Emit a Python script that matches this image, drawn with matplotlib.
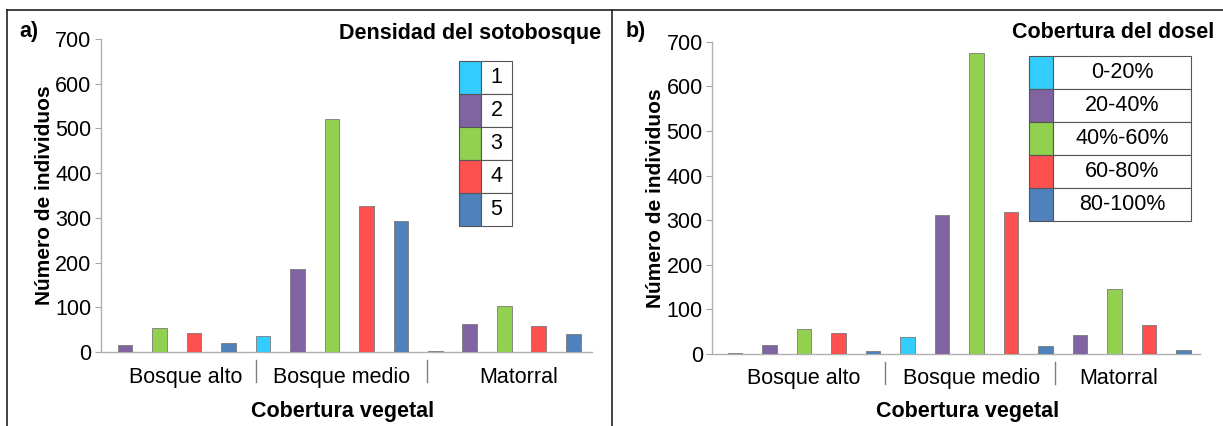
import matplotlib.pyplot as plt
from matplotlib.patches import Rectangle
from matplotlib.lines import Line2D

plt.rcParams['font.family'] = ['Liberation Sans', 'DejaVu Sans']

# colores por clase (1..5)
colores = ['#33CCFF', '#8064A2', '#92D050', '#FF5050', '#4F81BD']
grupos = ['Bosque alto', 'Bosque medio', 'Matorral']

# a) densidad del sotobosque
a_clase = [2, 3, 4, 5, 1, 2, 3, 4, 5, 1, 2, 3, 4, 5]
a_valor = [16, 53, 42, 20, 36, 185, 521, 326, 292, 2, 63, 102, 59, 40]
a_leyenda = ['1', '2', '3', '4', '5']

# b) cobertura del dosel
b_clase = [1, 2, 3, 4, 5, 1, 2, 3, 4, 5, 2, 3, 4, 5]
b_valor = [2, 20, 55, 46, 6, 37, 312, 674, 318, 19, 43, 146, 65, 8]
b_leyenda = ['0-20%', '20-40%', '40%-60%', '60-80%', '80-100%']

FS = 15.5
W, H = 1223, 426
fig = plt.figure(figsize=(W / 100, H / 100), dpi=100)

def fx(px):
    return px / W

def fy(py):
    return 1 - py / H

# marco
for seg in [((7, 1223), (10, 10)), ((7, 7), (10, 426)), ((612, 612), (10, 426))]:
    fig.add_artist(Line2D([fx(seg[0][0]), fx(seg[0][1])], [fy(seg[1][0]), fy(seg[1][1])],
                          color='#222222', lw=1.2))

def panel(rect, xlim, clases, valores, leyenda, titulo, letra, letra_x, titulo_x,
          divisores, centros, leg_box, col_w, xlab_x):
    ax = fig.add_axes(rect)
    x = list(range(len(valores)))
    ax.bar(x, valores, width=0.43, color=[colores[c - 1] for c in clases],
           edgecolor='#7a7a7a', linewidth=0.6, zorder=3)
    ax.set_xlim(*xlim)
    ax.set_ylim(0, 700)
    ax.set_yticks(range(0, 701, 100))
    ax.tick_params(axis='y', labelsize=FS, length=4, color='#a6a6a6', pad=3)
    ax.set_xticks([])
    for s in ['top', 'right']:
        ax.spines[s].set_visible(False)
    for s in ['left', 'bottom']:
        ax.spines[s].set_color('#b0b0b0')
        ax.spines[s].set_linewidth(1)
    ax.set_ylabel('Número de individuos', fontsize=15, fontweight='bold', labelpad=1)
    # separadores y etiquetas de grupo
    for d in divisores:
        ax.plot([d, d], [-0.025, -0.095], transform=ax.get_xaxis_transform(),
                color='#7f7f7f', lw=1, clip_on=False)
    for g, c in zip(grupos, centros):
        ax.text(c, -0.08, g, transform=ax.get_xaxis_transform(), ha='center', va='center',
                fontsize=FS)
    fig.text(fx(xlab_x), fy(412), 'Cobertura vegetal', ha='center', va='center',
             fontsize=FS, fontweight='bold')
    fig.text(fx(titulo_x), fy(33), titulo, ha='right', va='center', fontsize=FS,
             fontweight='bold')
    fig.text(fx(letra_x), fy(32), letra, ha='left', va='center', fontsize=FS,
             fontweight='bold')
    # leyenda tipo tabla
    lx0, ly0, lx1, ly1 = leg_box
    rh = (ly1 - ly0) / len(leyenda)
    for i, lab in enumerate(leyenda):
        top = ly0 + i * rh
        fig.add_artist(Rectangle((fx(lx0), fy(top + rh)), fx(col_w), rh / H,
                                 facecolor=colores[i], edgecolor='#555555', lw=0.8))
        fig.add_artist(Rectangle((fx(lx0 + col_w), fy(top + rh)), fx(lx1 - lx0 - col_w), rh / H,
                                 facecolor='white', edgecolor='#555555', lw=0.8))
        fig.text(fx((lx0 + col_w + lx1) / 2), fy(top + rh / 2), lab, ha='center', va='center',
                 fontsize=FS)
    return ax

panel([fx(101), fy(352), fx(491), 313 / H], (-0.696, 13.54), a_clase, a_valor, a_leyenda,
      'Densidad del sotobosque', 'a)', 19, 601, [3.8, 8.75], [1.77, 6.28, 11.42],
      (459, 61, 512, 226), 22, 343)
panel([fx(712.5), fy(354), fx(487.5), 312.3 / H], (-0.652, 13.48), b_clase, b_valor, b_leyenda,
      'Cobertura del dosel', 'b)', 626, 1214, [4.35, 9.29], [2.0, 6.86, 11.13],
      (1029, 56, 1191, 221), 24, 968)

fig.savefig('out.png', dpi=100)
